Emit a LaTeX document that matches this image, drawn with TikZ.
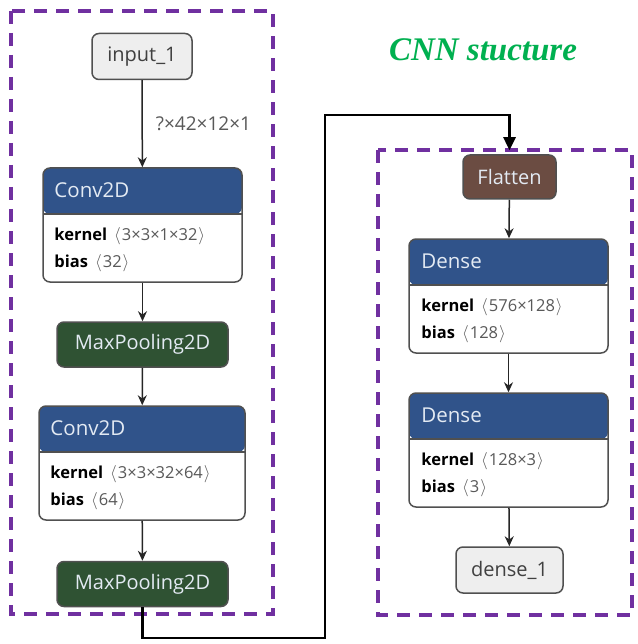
\documentclass[tikz,border=0pt]{standalone}
\usepackage{fontspec}
\setmainfont{Open Sans}
\newfontfamily\titlefont{Liberation Serif}
\usetikzlibrary{arrows.meta,positioning,calc}

\definecolor{hdrblue}{HTML}{30538A}
\definecolor{poolgreen}{HTML}{2F5233}
\definecolor{flatbrown}{HTML}{6B4C42}
\definecolor{boxgray}{HTML}{505050}
\definecolor{iogray}{HTML}{EEEEEE}
\definecolor{dashpurple}{HTML}{7030A0}
\definecolor{titlegreen}{HTML}{00B050}
\definecolor{hdrtext}{HTML}{E3EAF3}

\newcommand{\shp}[1]{\hspace{7pt}{\color{black!65}{\fontsize{19}{19}\selectfont$\langle$}\hspace{1pt}#1\hspace{1pt}{\fontsize{19}{19}\selectfont$\rangle$}}}

\begin{document}
\begin{tikzpicture}[x=1pt, y=-1pt,
    every node/.style={inner sep=0pt},
    iobox/.style={draw=boxgray, line width=1.5pt, fill=iogray, rounded corners=7pt,
        minimum height=46pt, font=\fontsize{20}{24}\selectfont, text=black!75},
    opbox/.style={draw=boxgray, line width=1.5pt, rounded corners=7pt, minimum height=45pt,
        font=\fontsize{20}{24}\selectfont, text=hdrtext},
    layer/.style={draw=boxgray, line width=1.5pt, fill=white, rounded corners=7pt,
        minimum width=199pt, minimum height=114pt,
        path picture={
            \fill[hdrblue] (path picture bounding box.north west) rectangle ([yshift=-46pt]path picture bounding box.north east);
            \draw[boxgray, line width=1.5pt] ([yshift=-46pt]path picture bounding box.north west) -- ([yshift=-46pt]path picture bounding box.north east);}},
    hdrlabel/.style={anchor=west, font=\fontsize{20.5}{24}\selectfont, text=hdrtext},
    params/.style={anchor=west, align=left, font=\fontsize{16.5}{27}\selectfont},
    flow/.style={draw=black!85, line width=1.5pt, -{Stealth[length=10pt, width=9pt]}},
    group/.style={draw=dashpurple, line width=3.5pt, dash pattern=on 13pt off 9pt}]

    % white page
    \useasboundingbox[fill=white] (0,0) rectangle (637,644);

    % Groups
    \draw[group] (11,11) rectangle (273,614);
    \draw[group] (378,150) rectangle (632,615);

    % Title
    \node[font=\titlefont\bfseries\itshape\fontsize{33}{40}\selectfont, text=titlegreen] (title) at (483,50) {CNN stucture};

    % Left column
    \node[iobox, minimum width=100pt] (input) at (142,56.5) {input\_1};

    \node[layer] (conv1) at (142.5,225) {};
    \node[hdrlabel] (conv1h) at ([xshift=12pt, yshift=-23pt]conv1.north west) {Conv2D};
    \node[params] (conv1p) at ([xshift=12pt, yshift=-82pt]conv1.north west) {\textbf{kernel}\shp{3×3×1×32}\\\textbf{bias}\shp{32}};

    \node[opbox, fill=poolgreen, minimum width=171pt] (pool1) at (142.5,344.5) {MaxPooling2D};

    \node[layer, minimum width=206pt] (conv2) at (142,463) {};
    \node[hdrlabel] (conv2h) at ([xshift=12pt, yshift=-23pt]conv2.north west) {Conv2D};
    \node[params] (conv2p) at ([xshift=12pt, yshift=-82pt]conv2.north west) {\textbf{kernel}\shp{3×3×32×64}\\\textbf{bias}\shp{64}};

    \node[opbox, fill=poolgreen, minimum width=171pt] (pool2) at (142.5,584) {MaxPooling2D};

    % Right column
    \node[opbox, fill=flatbrown, minimum width=93pt, minimum height=44pt] (flat) at (509.5,177) {Flatten};

    \node[layer] (dense1) at (508.5,296) {};
    \node[hdrlabel] (dense1h) at ([xshift=13pt, yshift=-23pt]dense1.north west) {Dense};
    \node[params] (dense1p) at ([xshift=13pt, yshift=-82pt]dense1.north west) {\textbf{kernel}\shp{576×128}\\\textbf{bias}\shp{128}};

    \node[layer] (dense2) at (508.5,450) {};
    \node[hdrlabel] (dense2h) at ([xshift=13pt, yshift=-23pt]dense2.north west) {Dense};
    \node[params] (dense2p) at ([xshift=13pt, yshift=-82pt]dense2.north west) {\textbf{kernel}\shp{128×3}\\\textbf{bias}\shp{3}};

    \node[iobox, minimum width=107pt] (output) at (509.5,570) {dense\_1};

    % Arrows
    \draw[flow] (input) -- node[right=13pt, font=\fontsize{19}{22}\selectfont, text=black!65] (inshape) {?×42×12×1} (conv1);
    \draw[flow] (conv1) -- (pool1);
    \draw[flow] (pool1) -- (conv2);
    \draw[flow] (conv2) -- (pool2);
    \draw[flow] (flat) -- (dense1);
    \draw[flow] (dense1) -- (dense2);
    \draw[flow] (dense2) -- (output);

    % link between the two columns
    \coordinate (low) at (325,638);
    \coordinate (high) at (325,115);
    \draw[line width=2.5pt, -{Triangle[length=13pt, width=12pt]}] (pool2.south) |- (low) -- (high) -| ([yshift=4pt]flat.north);
\end{tikzpicture}
\end{document}
